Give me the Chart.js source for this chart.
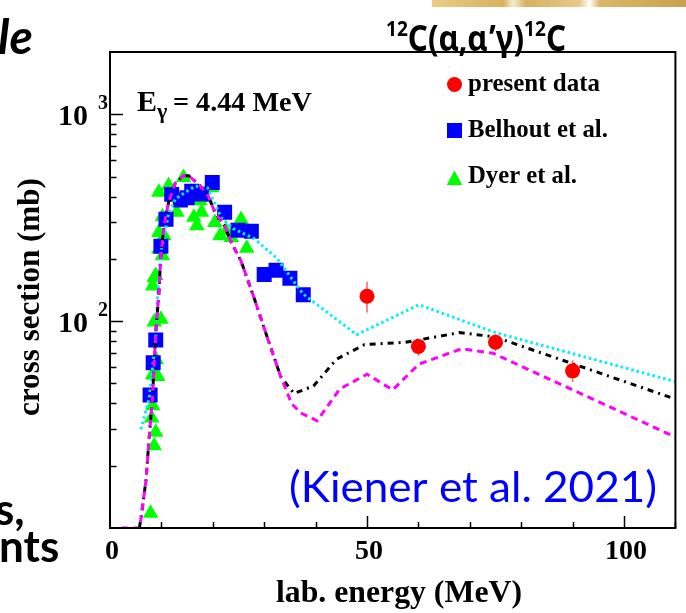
<!DOCTYPE html>
<html><head><meta charset="utf-8">
<script src="https://cdn.jsdelivr.net/npm/chart.js@4.4.1/dist/chart.umd.min.js"></script>
<style>
html,body{margin:0;padding:0;background:#fff;}
#wrap{position:relative;width:686px;height:613px;overflow:hidden;background:#fff;}
#c{position:absolute;left:0;top:0;}
.frag{position:absolute;font-family:Lato,"Open Sans",sans-serif;font-weight:700;color:#000;white-space:nowrap;line-height:1;}
#strip{position:absolute;left:432px;top:0;width:254px;height:7px;background:linear-gradient(90deg,#e9cc86 0%,#d9b15e 28%,#f5ecd2 32%,#d8b060 37%,#e8c98a 58%,#ffffff 62%,#dcb66a 66%,#c9a04e 100%);}
</style></head>
<body><div id="wrap">
<canvas id="c" width="686" height="613"></canvas>
<div id="strip"></div>
<div class="frag" style="left:-2px;top:12px;font-size:48px;font-style:italic;">le</div>
<div class="frag" style="left:-5px;top:486px;font-size:44px;">s,</div>
<div class="frag" style="left:-1px;top:523px;font-size:44px;">nts</div>
</div>
<script>
// ---- data ----
const presentE  = [50, 60, 75, 90];
const presentXS = [132, 75.5, 79, 57.5];
const presentLo = [110, 68, 71.5, 50.8];
const presentHi = [155, 82, 86.5, 64.7];

const belhoutE  = [7.8, 8.4, 8.9, 9.9, 10.9, 12.0, 13.7, 15.0, 15.9, 17.8, 19.9, 22.3, 24.9, 27.5, 30.0, 32.3, 35.0, 37.6];
const belhoutXS = [44, 63, 81, 230, 311, 410, 385, 395, 424, 412, 468, 336, 275, 272, 168, 176, 161, 134];

const dyerE  = [7.9, 8.1, 8.3, 8.6, 8.9, 8.3, 9.3, 9.0, 8.6, 9.9, 8.3, 8.6, 8.9, 9.5, 10.2, 9.5, 10.5, 10.2, 9.5, 11.4, 13.0, 14.3, 16.3, 16.9, 17.8, 17.5, 18.5, 19.8, 20.4, 21.4, 22.6, 23.6, 25.5, 26.6];
const dyerXS = [11.8, 34, 39, 25, 29, 55, 54, 65, 99, 102, 148, 162, 166, 223, 207, 268, 259, 320, 420, 451, 336, 495, 318, 289, 336, 382, 396, 441, 300, 259, 273, 254, 310, 225];

const dashedE  = [2.2, 5.7, 6.0, 7.0, 7.6, 8.25, 8.9, 9.5, 9.85, 10.5, 11.4, 12.7, 14.3, 15.3, 17.2, 19.1, 20.4, 22.3, 23.6, 25.5, 28.1, 30.7, 33.2, 34.5, 35.3, 37.1, 40.3, 44.7, 50.0, 55.0, 60.1, 68.4, 74.5, 110];
const dashedXS = [10, 10, 11, 17, 27, 42, 88, 135, 200, 289, 376, 465, 505, 505, 460, 404, 336, 289, 240, 195, 128, 82, 54, 45, 40, 36, 33, 47, 55.4, 46.5, 62, 73.5, 70, 27.5];

const dashdotE  = [5.7, 6.0, 7.0, 7.6, 8.25, 8.9, 9.5, 9.85, 10.5, 11.4, 12.7, 14.3, 15.3, 17.2, 19.1, 20.4, 22.3, 23.6, 25.5, 28.1, 30.7, 33.2, 35.8, 39.6, 44.1, 49.5, 57.5, 68.0, 74.8, 110];
const dashdotXS = [10, 11, 17, 27, 42, 88, 135, 200, 289, 376, 465, 505, 505, 460, 404, 336, 289, 240, 195, 128, 82, 54, 44.7, 48.6, 65.5, 77, 79, 88, 84, 42];

const dottedE  = [6.0, 7.6, 8.4, 8.9, 9.2, 9.9, 11.4, 12.7, 14.7, 16.6, 19.0, 21.7, 24.0, 28.1, 32.6, 35.0, 37.6, 48.0, 60.1, 75.0, 110];
const dottedXS = [30, 42, 63, 82, 128, 215, 330, 390, 420, 450, 440, 315, 280, 250, 200, 165, 135, 86, 120, 88, 51];

const xTickLabels = [0, 50, 100];
const yTickLabels = [{v: 100, base: '10', exp: '2'}, {v: 1000, base: '10', exp: '3'}];
const legendLabels = ['present data', 'Belhout et al.', 'Dyer et al.'];

const pts = (xs, ys) => xs.map((x, i) => ({x: x, y: ys[i]}));

const SERIF = '"Liberation Serif","Times New Roman",serif';
const SANS = 'Lato,"Open Sans",sans-serif';
const TSANS = '"Noto Sans","Open Sans",sans-serif';

function fitSize(ctx, text, weight, family, targetW) {
  ctx.font = weight + ' 100px ' + family;
  return 100 * targetW / ctx.measureText(text).width;
}
function scaledText(ctx, text, x, yb, font, targetW) {
  ctx.font = font;
  const w = ctx.measureText(text).width;
  ctx.save(); ctx.translate(x, yb); ctx.scale(targetW / w, 1);
  ctx.textAlign = 'left'; ctx.fillText(text, 0, 0); ctx.restore();
}

const deco = {
  id: 'deco',
  beforeDatasetDraw(chart, args) {
    if (args.index !== 0) return;
    const {ctx, scales: {x, y}} = chart;
    ctx.save(); ctx.strokeStyle = '#ff6a6a'; ctx.lineWidth = 1.6;
    presentE.forEach((e, i) => {
      const px = x.getPixelForValue(e);
      ctx.beginPath();
      ctx.moveTo(px, y.getPixelForValue(presentHi[i]));
      ctx.lineTo(px, y.getPixelForValue(presentLo[i]));
      ctx.stroke();
    });
    ctx.restore();
  },
  afterDraw(chart) {
    const {ctx, chartArea: a, scales: {x, y}} = chart;
    ctx.save();
    ctx.textBaseline = 'alphabetic';
    // frame
    ctx.strokeStyle = '#000'; ctx.lineWidth = 2;
    ctx.strokeRect(a.left, a.top, a.right - a.left, a.bottom - a.top);
    // x ticks
    ctx.lineWidth = 1.5;
    for (let v = 10; v <= 110; v += 10) {
      const px = Math.round(x.getPixelForValue(v)) + 0.5;
      const len = v % 50 === 0 ? 12 : 6;
      ctx.beginPath(); ctx.moveTo(px, a.bottom); ctx.lineTo(px, a.bottom - len); ctx.stroke();
    }
    // y ticks
    [10, 100, 1000].forEach(d => {
      for (let k = 1; k <= 9; k++) {
        const v = k * d;
        if (v <= 10 || v >= 2000) continue;
        const py = Math.round(y.getPixelForValue(v)) + 0.5;
        const len = k === 1 ? 13 : 6.5;
        ctx.beginPath(); ctx.moveTo(a.left, py); ctx.lineTo(a.left + len, py); ctx.stroke();
      }
    });
    ctx.fillStyle = '#000';
    // x tick labels
    ctx.font = 'bold 28px ' + SERIF; ctx.textAlign = 'center';
    xTickLabels.forEach(v => ctx.fillText(String(v), x.getPixelForValue(v) + 2, 559));
    // y tick labels
    yTickLabels.forEach(t => {
      const py = y.getPixelForValue(t.v);
      ctx.font = 'bold 30px ' + SERIF; ctx.textAlign = 'right';
      ctx.fillText(t.base, 88, py + 11);
      ctx.font = 'bold 20px ' + SERIF; ctx.textAlign = 'left';
      ctx.fillText(t.exp, 98, py - 5);
    });
    // axis titles
    let s = fitSize(ctx, 'lab. energy (MeV)', 'bold', SERIF, 246);
    ctx.font = 'bold ' + s + 'px ' + SERIF; ctx.textAlign = 'left';
    ctx.fillText('lab. energy (MeV)', 276, 602);
    s = fitSize(ctx, 'cross section (mb)', 'bold', SERIF, 238);
    ctx.save(); ctx.translate(39, 297); ctx.rotate(-Math.PI / 2);
    ctx.font = 'bold ' + s + 'px ' + SERIF; ctx.textAlign = 'center';
    ctx.fillText('cross section (mb)', 0, 0); ctx.restore();
    // legend
    const lx = 454.5;
    ctx.fillStyle = '#ff0000'; ctx.beginPath(); ctx.arc(lx, 84.5, 7.5, 0, Math.PI * 2); ctx.fill();
    ctx.fillStyle = '#0000ff'; ctx.fillRect(lx - 7.5, 123, 15, 15);
    ctx.fillStyle = '#00ff00'; ctx.beginPath(); ctx.moveTo(lx, 170.5); ctx.lineTo(lx + 7.8, 185); ctx.lineTo(lx - 7.8, 185); ctx.closePath(); ctx.fill();
    ctx.fillStyle = '#000'; ctx.textAlign = 'left';
    const lw = [132, 140, 109], lb = [91, 137, 183];
    legendLabels.forEach((t, i) => {
      const fs = fitSize(ctx, t, 'bold', SERIF, lw[i]);
      ctx.font = 'bold ' + fs + 'px ' + SERIF; ctx.fillText(t, 468, lb[i]);
    });
    // annotation E_gamma
    ctx.font = 'bold 30px ' + SERIF; ctx.fillText('E', 137, 111);
    ctx.font = 'bold 22px ' + SERIF; ctx.fillText('\u03B3', 157, 118);
    s = fitSize(ctx, '= 4.44 MeV', 'bold', SERIF, 139);
    ctx.font = 'bold ' + s + 'px ' + SERIF; ctx.fillText('= 4.44 MeV', 173, 111);
    // reference note
    ctx.fillStyle = '#0000ff';
    scaledText(ctx, '(Kiener et al. 2021)', 289, 502, '42px ' + SANS, 368);
    // title
    ctx.fillStyle = '#000';
    const parts = [['12', 22, -15], ['C(\u03B1,\u03B1\u2019\u03B3)', 36, 0], ['12', 22, -15], ['C', 36, 0]];
    let tot = 0;
    parts.forEach(p => { ctx.font = 'bold ' + p[1] + 'px ' + TSANS; tot += ctx.measureText(p[0]).width; });
    const sc = 180 / tot;
    ctx.save(); ctx.translate(386, 51); ctx.scale(sc, 1);
    let cx = 0;
    parts.forEach(p => { ctx.font = 'bold ' + p[1] + 'px ' + TSANS; ctx.fillText(p[0], cx, p[2]); cx += ctx.measureText(p[0]).width; });
    ctx.restore();
    ctx.restore();
  }
};

const datasets = [
  {label: 'present data', data: pts(presentE, presentXS), pointStyle: 'circle', pointRadius: 7.5,
   backgroundColor: '#ff0000', pointBorderWidth: 0, borderColor: '#ff0000', order: 0},
  {label: 'dashed', data: pts(dashedE, dashedXS), showLine: true, pointRadius: 0, borderColor: '#ff00ff',
   borderWidth: 3, borderDash: [7, 5], fill: false, order: 1},
  {label: 'dashdot', data: pts(dashdotE, dashdotXS), showLine: true, pointRadius: 0, borderColor: '#000000',
   borderWidth: 3, borderDash: [6, 5, 2, 5], fill: false, order: 2},
  {label: 'dotted', data: pts(dottedE, dottedXS), showLine: true, pointRadius: 0, borderColor: '#00eeff',
   borderWidth: 3, borderDash: [2.5, 3], fill: false, order: 3},
  {label: 'Belhout et al.', data: pts(belhoutE, belhoutXS), pointStyle: 'rect', pointRadius: 10.6,
   backgroundColor: '#0000ff', borderColor: '#0000ff', pointBorderWidth: 0, order: 4},
  {label: 'Dyer et al.', data: pts(dyerE, dyerXS), pointStyle: 'triangle', pointRadius: 9,
   backgroundColor: '#00ff00', borderColor: '#00ff00', pointBorderWidth: 0, order: 5}
];

new Chart(document.getElementById('c'), {
  type: 'scatter',
  data: {datasets: datasets},
  options: {
    responsive: false, animation: false, devicePixelRatio: 1,
    layout: {padding: {top: 52, right: 3, left: 0, bottom: 0}},
    plugins: {legend: {display: false}, tooltip: {enabled: false}},
    scales: {
      x: {type: 'linear', min: 0, max: 110, grid: {display: false, drawTicks: false}, border: {display: false},
          ticks: {display: false}, afterFit(s) { s.height = 85; }},
      y: {type: 'logarithmic', min: 10, max: 2000, grid: {display: false, drawTicks: false}, border: {display: false},
          ticks: {display: false}, afterFit(s) { s.width = 110; }}
    }
  },
  plugins: [deco]
});
</script>
</body></html>
